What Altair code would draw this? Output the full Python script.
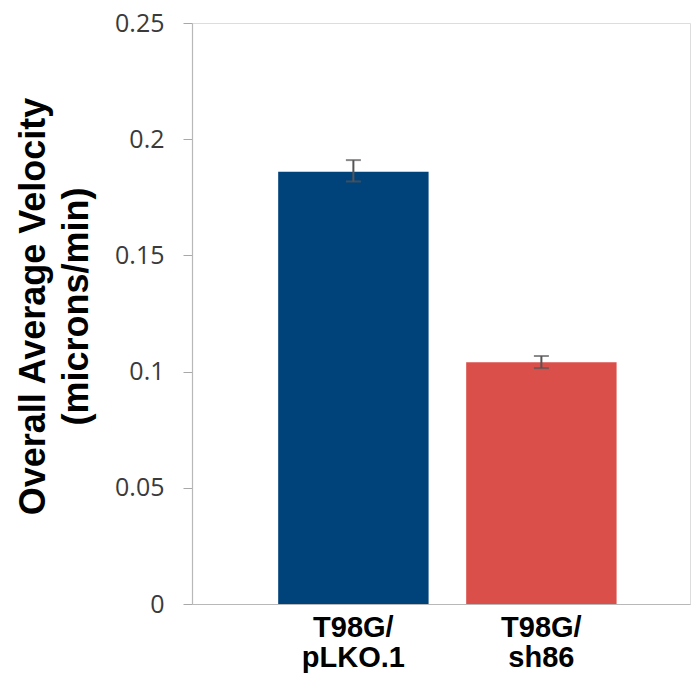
import altair as alt
import pandas as pd

categories = ["T98G/ pLKO.1", "T98G/ sh86"]
velocity = [0.186, 0.104]
err_low = [0.1818, 0.1015]
err_high = [0.1910, 0.1067]
colors = ["#00427A", "#DB4F4B"]
y_ticks = [0, 0.05, 0.1, 0.15, 0.2, 0.25]

df = pd.DataFrame({
    "cat": categories,
    "v": velocity,
    "lo": err_low,
    "hi": err_high,
    "color": colors,
})

x_enc = alt.X(
    "cat:N",
    sort=categories,
    title=None,
    scale=alt.Scale(paddingInner=0.2, paddingOuter=0.4245, align=0.54),
    axis=alt.Axis(
        labelAngle=0,
        labelExpr="split(datum.label, ' ')",
        labelFont="Liberation Sans",
        labelFontWeight="bold",
        labelFontSize=29,
        labelLineHeight=30,
        labelColor="#000000",
        labelPadding=9,
        ticks=False,
        domainColor="#b8b8b8",
        domainWidth=1.2,
    ),
)

y_enc = alt.Y(
    "v:Q",
    scale=alt.Scale(domain=[0, 0.25], nice=False),
    axis=alt.Axis(
        values=y_ticks,
        format="~g",
        title=["Overall Average Velocity", "(microns/min)"],
        titleFont="Liberation Sans",
        titleFontWeight="bold",
        titleFontSize=36,
        titleLineHeight=43,
        titleColor="#000000",
        titleAngle=-90,
        titleAlign="center",
        titleBaseline="top",
        titleX=-176,
        titleY=283,
        labelFont="Open Sans",
        labelFontSize=25,
        labelColor="#3a3a3a",
        labelPadding=19,
        tickSize=9,
        tickColor="#a8a8a8",
        domainColor="#b8b8b8",
        domainWidth=1.2,
        grid=False,
    ),
)

bars = alt.Chart(df).mark_bar().encode(
    x=x_enc,
    y=y_enc,
    color=alt.Color("color:N", scale=None),
)

rules = alt.Chart(df).mark_rule(color="#555555", strokeWidth=2).encode(
    x=alt.X("cat:N", sort=categories),
    y="lo:Q",
    y2="hi:Q",
)

caps_hi = alt.Chart(df).mark_tick(color="#555555", thickness=2, size=15).encode(
    x=alt.X("cat:N", sort=categories),
    y="hi:Q",
)
caps_lo = alt.Chart(df).mark_tick(color="#555555", thickness=2, size=15).encode(
    x=alt.X("cat:N", sort=categories),
    y="lo:Q",
)

chart = alt.layer(bars, rules, caps_hi, caps_lo).properties(
    width=498,
    height=581,
    autosize=alt.AutoSizeParams(type="none"),
    padding={"left": 192, "top": 23, "right": 1, "bottom": 69},
).configure_view(stroke=None).configure(background="#ffffff")

chart.save("out.html", embed_options={"renderer": "svg", "actions": False})
